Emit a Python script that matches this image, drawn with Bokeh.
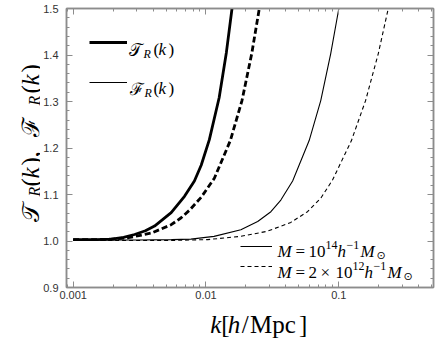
import math
from bokeh.plotting import figure
from bokeh.layouts import row, column
from bokeh.models import (LogAxis, LinearAxis, Label, Legend, LegendItem, Range1d,
                          SingleIntervalTicker, LogTicker, NumeralTickFormatter,
                          CustomJSTickFormatter)
from bokeh.embed import file_html
from bokeh.resources import INLINE

# ---- data ----
k_T14 = [0.001, 0.0015, 0.00194, 0.0024, 0.0029, 0.0035, 0.0041, 0.00547, 0.00689, 0.00818, 0.0092, 0.0106, 0.01256, 0.01423, 0.0157]
T_14 = [1.003, 1.003, 1.004, 1.008, 1.014, 1.022, 1.032, 1.061, 1.096, 1.129, 1.163, 1.218, 1.308, 1.405, 1.5]

k_T12 = [0.001, 0.0015, 0.002, 0.0026, 0.00387, 0.00547, 0.0065, 0.0075, 0.0092, 0.01156, 0.01525, 0.01866, 0.0221, 0.0252]
T_12 = [1.003, 1.003, 1.004, 1.007, 1.017, 1.035, 1.050, 1.066, 1.094, 1.135, 1.216, 1.302, 1.403, 1.5]

k_F14 = [0.001, 0.003, 0.0055, 0.0077, 0.0115, 0.0183, 0.0245, 0.0308, 0.0366, 0.0449, 0.0598, 0.0731, 0.0869, 0.1]
F_14 = [1.002, 1.002, 1.003, 1.004, 1.010, 1.024, 1.042, 1.063, 1.088, 1.129, 1.216, 1.302, 1.403, 1.5]

k_F12 = [0.001, 0.005, 0.0103, 0.0183, 0.029, 0.0435, 0.0581, 0.0731, 0.0896, 0.1244, 0.159, 0.1982, 0.2356]
F_12 = [1.001, 1.001, 1.003, 1.010, 1.021, 1.040, 1.063, 1.092, 1.131, 1.216, 1.302, 1.403, 1.5]

x_lim = (0.000891, 0.516)
y_lim = (0.9, 1.5)
y_tick_step = 0.1

GRAY = "#8c8c8c"
SERIF = "Liberation Serif"
W, H = 436, 339
YL_W = 40          # width of the strip holding the y-axis title
XL_H = 35          # height of the strip holding the x-axis title
MAIN_H = H - XL_H  # 304

# ---------------- main plot ----------------
p = figure(width=W - YL_W, height=MAIN_H, x_axis_type="log",
           x_range=Range1d(*x_lim), y_range=Range1d(*y_lim),
           output_backend="svg", toolbar_location=None,
           min_border_left=65 - YL_W, min_border_right=3, min_border_top=8,
           min_border_bottom=MAIN_H - 287)
p.grid.visible = False
p.outline_line_color = GRAY
p.outline_line_width = 1.5


def style_axis(ax, show_labels=True):
    ax.axis_line_color = GRAY
    ax.axis_line_width = 1.5
    ax.major_tick_line_color = GRAY
    ax.minor_tick_line_color = GRAY
    ax.major_tick_in = 6
    ax.major_tick_out = 0
    ax.minor_tick_in = 3
    ax.minor_tick_out = 0
    ax.major_label_text_font = "Liberation Sans"
    ax.major_label_text_font_size = "11px"
    ax.major_label_text_color = "#333333"
    if not show_labels:
        ax.major_label_standoff = 0


xt = LogTicker(mantissas=[1], num_minor_ticks=10)
yt = SingleIntervalTicker(interval=y_tick_step, num_minor_ticks=5)
xfmt = CustomJSTickFormatter(code="return Number(tick.toPrecision(3)).toString();")
blank = CustomJSTickFormatter(code="return '';")

p.xaxis.ticker = xt
p.xaxis.formatter = xfmt
p.yaxis.ticker = yt
p.yaxis.formatter = NumeralTickFormatter(format="0.0")
style_axis(p.xaxis[0])
style_axis(p.yaxis[0])
p.xaxis.major_label_standoff = 3
p.yaxis.major_label_standoff = 8

top = LogAxis(ticker=xt, formatter=blank)
style_axis(top, False)
p.add_layout(top, "above")
right = LinearAxis(ticker=yt, formatter=blank)
style_axis(right, False)
p.add_layout(right, "right")

# ---- curves ----
r_t14 = p.line(k_T14, T_14, line_color="black", line_width=2.8)
r_t12 = p.line(k_T12, T_12, line_color="black", line_width=2.8, line_dash="6 3")
r_f14 = p.line(k_F14, F_14, line_color="black", line_width=1.1)
r_f12 = p.line(k_F12, F_12, line_color="black", line_width=1.1, line_dash="4 3")


def sample(r, x, y, w):
    lg = Legend(items=[LegendItem(label=" ", renderers=[r])], location=(x, y),
                padding=0, margin=0, spacing=0, glyph_width=w, glyph_height=10,
                label_height=10, label_width=1, label_standoff=0,
                label_text_font_size="1px", border_line_color=None,
                background_fill_alpha=0)
    p.add_layout(lg, "center")


# legend line samples (offsets from the frame's bottom-left corner)
sample(r_t14, 23, 240, 38)
sample(r_f14, 23, 200, 38)
sample(r_f14, 174, 36, 32)
sample(r_f12, 174, 16, 32)

# ---- text pieces ----
AX, AY = 0.001, 0.9     # anchor in data space
APX, APY = 71.7, 287.0  # page position of that anchor


def txt(s, px, py, size, style="normal", angle=0.0, font=SERIF):
    p.add_layout(Label(x=AX, y=AY, x_offset=px - APX, y_offset=APY - py, text=s,
                       text_font=font, text_font_size=f"{size}px",
                       text_font_style=style, text_baseline="alphabetic",
                       text_align="left", angle=angle, text_color="black"))


# upper-left legend
txt("𝒯", 128, 49, 17, font="DejaVu Serif")
txt("R", 142, 53, 12, "italic")
txt("(", 152, 49, 17)
txt("k", 157, 49, 17, "italic")
txt(")", 167, 49, 17)

txt("ℱ", 129, 88, 17, font="DejaVu Serif")
txt("R", 143, 92, 12, "italic")
txt("(", 152, 88, 17)
txt("k", 157, 88, 17, "italic")
txt(")", 167, 88, 17)

# lower-right legend
txt("M", 276, 251, 17, "italic")
txt("=", 294, 251, 17)
txt("10", 307, 251, 17)
txt("14", 324, 244, 12)
txt("h", 336, 251, 17, "italic")
txt("−1", 345, 244, 12)
txt("M", 359, 251, 17, "italic")
txt("⊙", 375, 255, 11, font="DejaVu Sans")

txt("M", 276, 272, 17, "italic")
txt("=", 294, 272, 17)
txt("2", 307, 272, 17)
txt("×", 319, 272, 17)
txt("10", 334, 272, 17)
txt("12", 351, 265, 12)
txt("h", 363, 272, 17, "italic")
txt("−1", 372, 265, 12)
txt("M", 386, 272, 17, "italic")
txt("⊙", 402, 276, 11, font="DejaVu Sans")


# ---------------- axis-title strips ----------------
def strip(w, h):
    f = figure(width=w, height=h, x_range=Range1d(0, w), y_range=Range1d(0, h),
               x_axis_location=None, y_axis_location=None, output_backend="svg",
               toolbar_location=None, min_border=0)
    f.grid.visible = False
    f.outline_line_color = None
    return f


fy = strip(YL_W, H)
fx = strip(W - YL_W, XL_H)


def put(f, x0, y_bottom, s, px, py, size, style="normal", angle=0.0, font=SERIF):
    # px, py are page pixels; x0 is the strip's left page edge, y_bottom its bottom page edge
    f.add_layout(Label(x=px - x0, y=y_bottom - py, text=s, text_font=font,
                       text_font_size=f"{size}px", text_font_style=style,
                       text_baseline="alphabetic", text_align="left", angle=angle,
                       text_color="black"))


# x axis title
XB = 324
put(fx, YL_W, H, "k", 195, XB, 25, "italic")
put(fx, YL_W, H, "[", 207, XB, 25)
put(fx, YL_W, H, "h", 214, XB, 25, "italic")
put(fx, YL_W, H, "/", 229, XB, 25)
put(fx, YL_W, H, "Mpc", 238, XB, 25)
put(fx, YL_W, H, "]", 291, XB, 25)

# y axis title (rotated)
A = math.pi / 2
YB = 30
put(fy, 0, H, "𝒯", YB, 221, 24, angle=A, font="DejaVu Serif")
put(fy, 0, H, "R", YB + 4, 196, 16, "italic", angle=A)
put(fy, 0, H, "(", YB, 186, 25, angle=A)
put(fy, 0, H, "k", YB, 178, 25, "italic", angle=A)
put(fy, 0, H, ")", YB, 165, 25, angle=A)
put(fy, 0, H, ",", YB, 157, 25, angle=A)
put(fy, 0, H, "ℱ", YB, 136, 24, angle=A, font="DejaVu Serif")
put(fy, 0, H, "R", YB + 4, 105, 16, "italic", angle=A)
put(fy, 0, H, "(", YB, 93, 25, angle=A)
put(fy, 0, H, "k", YB, 85, 25, "italic", angle=A)
put(fy, 0, H, ")", YB, 72, 25, angle=A)

layout = row(fy, column(p, fx, spacing=0), spacing=0)
open("out.html", "w").write(file_html(layout, INLINE))
